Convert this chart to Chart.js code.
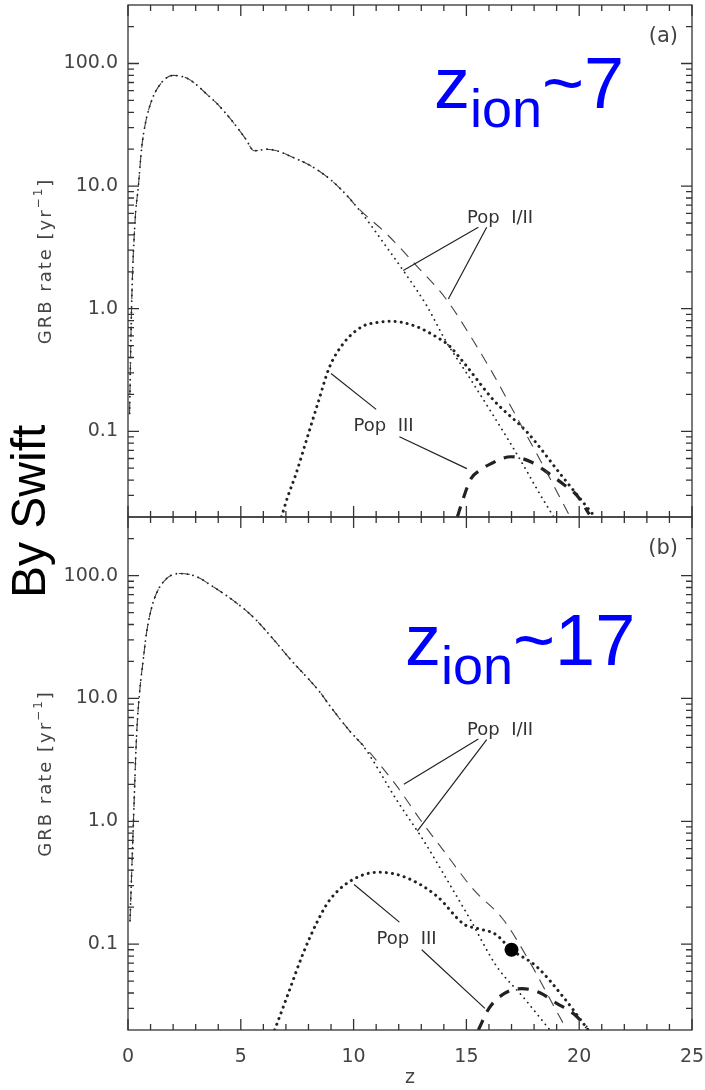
<!DOCTYPE html>
<html>
<head>
<meta charset="utf-8">
<script src="https://cdn.jsdelivr.net/npm/chart.js@4.4.0/dist/chart.umd.min.js"></script>
<style>
  html, body { margin: 0; padding: 0; background: #fff; }
  #wrap { position: relative; width: 705px; height: 1090px; }
  #wrap canvas { position: absolute; left: 0; top: 0; }
</style>
</head>
<body>
<div id="wrap">
  <canvas id="panelA" width="705" height="1090"></canvas>
  <canvas id="panelB" width="705" height="1090"></canvas>
</div>
<script>
// --- data (z, GRB rate per yr) ---
// panel (a), z_ion ~ 7 : low-z part shared by both Pop I/II curves
const zA_low    = [0.07, 0.16, 0.31, 0.46, 0.60, 0.75, 1.05, 1.49, 2.0, 2.6, 3.0, 3.5, 4.0, 4.67, 5.2, 5.6, 5.9, 6.15, 6.6, 7.2, 8.2, 9.1, 9.8];
const rateA_low = [0.14, 1.07, 5.1, 10, 20, 31, 50, 70, 80, 76, 68, 56, 46, 33, 24.5, 19.4, 19.7, 20, 19.4, 17.5, 14.3, 10.8, 8.0];
const zA_dotTail    = [10.43, 11.3, 12.2, 13.24, 14.1, 15.0, 16.2, 17.5, 18.2, 18.87];
const rateA_dotTail = [5.8, 3.5, 2.05, 1.06, 0.54, 0.30, 0.134, 0.054, 0.032, 0.02];
const zA_dashTail    = [10.13, 11.45, 12.78, 14.1, 15.3, 16.2, 17.05, 18.54, 19.6];
const rateA_dashTail = [6.8, 4.1, 2.25, 1.2, 0.55, 0.29, 0.15, 0.047, 0.02];
const zA_pop3Dot    = [6.8, 7.1, 7.43, 7.93, 8.42, 8.92, 9.58, 10.41, 11.0, 11.66, 12.74, 13.73, 14.23, 14.9, 16.2, 17.7, 19.2, 20.7];
const rateA_pop3Dot = [0.02, 0.03, 0.044, 0.087, 0.17, 0.33, 0.53, 0.72, 0.77, 0.79, 0.72, 0.58, 0.50, 0.36, 0.18, 0.098, 0.044, 0.02];
const zA_pop3Dash    = [14.6, 14.85, 15.2, 15.6, 16.05, 16.97, 17.9, 18.6, 19.3, 19.9, 20.45];
const rateA_pop3Dash = [0.02, 0.028, 0.041, 0.048, 0.054, 0.062, 0.056, 0.046, 0.037, 0.030, 0.021];

// panel (b), z_ion ~ 17
const zB_low    = [0.09, 0.24, 0.38, 0.5, 0.68, 0.83, 1.12, 1.57, 2.3, 3.04, 3.78, 4.6, 5.55, 6.4, 7.18, 8.5, 8.95, 9.84];
const rateB_low = [0.155, 0.98, 5.0, 10.5, 21, 35, 61, 89, 104, 98, 81, 64, 46, 31, 21, 11.3, 8.7, 5.4];
const zB_dotTail    = [10.43, 11.9, 13.16, 14.2, 15.16, 16.34, 17.52, 18.7];
const rateB_dotTail = [4.1, 1.5, 0.67, 0.32, 0.16, 0.066, 0.037, 0.02];
const zB_dashTail    = [10.73, 11.9, 12.94, 13.98, 15.3, 16.64, 17.82, 18.56, 19.45];
const rateB_dashTail = [3.6, 1.95, 1.04, 0.58, 0.28, 0.158, 0.071, 0.04, 0.02];
const zB_pop3Dot    = [6.5, 7.09, 7.75, 8.41, 8.95, 9.9, 11.1, 12.3, 13.7, 14.9, 15.5, 16.3, 17.0, 18.1, 19.3, 20.4];
const rateB_pop3Dot = [0.02, 0.039, 0.083, 0.155, 0.23, 0.33, 0.385, 0.35, 0.245, 0.145, 0.134, 0.12, 0.09, 0.066, 0.037, 0.02];
const zB_pop3Dash    = [15.53, 16.0, 16.67, 17.47, 18.28, 19.0, 19.77, 20.33];
const rateB_pop3Dash = [0.02, 0.030, 0.0395, 0.0435, 0.040, 0.033, 0.027, 0.021];
const zB_point    = [17.0];
const rateB_point = [0.09];

// axes
const zMin = 0, zMax = 25, zStep = 5;
const rateMin = 0.02, rateMax = 300;
const rateTicks = [0.1, 1, 10, 100];

// annotation text + leader lines, in data units (z, rate)
const notesA = [
  { text: 'Pop  I/II', z: 15.03, rate: 5.0 },
  { text: 'Pop  III', z: 10.0, rate: 0.101 }
];
const leadersA = [[15.53, 4.62, 12.2, 2.05], [15.9, 4.62, 14.2, 1.2], [9.0, 0.296, 11.0, 0.151], [12.03, 0.0904, 15.02, 0.0496]];
const notesB = [
  { text: 'Pop  I/II', z: 15.03, rate: 5.03 },
  { text: 'Pop  III', z: 11.02, rate: 0.101 }
];
const leadersB = [[15.53, 4.67, 12.23, 2.0], [15.9, 4.62, 12.82, 0.83], [10.02, 0.306, 12.03, 0.151], [13.02, 0.090, 15.82, 0.030]];

// --- styles ---
const INK = '#333';
const TEXT = '#444';
const IDL = '"DejaVu Sans", sans-serif';
const ARIAL = '"Liberation Sans", Arial, sans-serif';
Chart.defaults.font.family = IDL;

const thinDot  = { borderColor: '#222', borderWidth: 1.8, borderDash: [0.1, 5.5], borderCapStyle: 'round' };
const thinDash = { borderColor: '#444', borderWidth: 1.1, borderDash: [11, 8] };
const fatDot   = { borderColor: '#222', borderWidth: 3, borderDash: [0.1, 6], borderCapStyle: 'round' };
const fatDash  = { borderColor: '#222', borderWidth: 3.2, borderDash: [11, 9] };

function pts(zs, rs) { return zs.map((z, i) => ({ x: z, y: rs[i] })); }
function curve(zs, rs, style) {
  return Object.assign({ type: 'line', data: pts(zs, rs), pointRadius: 0, fill: false,
    cubicInterpolationMode: 'monotone' }, style);
}
// keep the plot frame exactly where the layout padding puts it
function noPad(s) { s.paddingTop = 0; s.paddingBottom = 0; s.paddingLeft = 0; s.paddingRight = 0; }

function drawFrame(chart) {
  const { ctx, chartArea: a, scales: { x, y } } = chart;
  ctx.save();
  ctx.strokeStyle = INK;
  ctx.lineWidth = 1.3;
  ctx.strokeRect(a.left, a.top, a.right - a.left, a.bottom - a.top);
  ctx.beginPath();
  for (let v = zMin; v <= zMax; v++) {
    const px = x.getPixelForValue(v);
    const len = v % zStep === 0 ? 11 : 6;
    ctx.moveTo(px, a.top); ctx.lineTo(px, a.top + len);
    ctx.moveTo(px, a.bottom); ctx.lineTo(px, a.bottom - len);
  }
  for (let d = -2; d <= 2; d++) {
    for (let m = 1; m <= 9; m++) {
      const v = m * Math.pow(10, d);
      if (v <= rateMin * 1.001 || v >= rateMax * 0.999) continue;
      const py = y.getPixelForValue(v);
      const len = m === 1 ? 11 : 6;
      ctx.moveTo(a.left, py); ctx.lineTo(a.left + len, py);
      ctx.moveTo(a.right, py); ctx.lineTo(a.right - len, py);
    }
  }
  ctx.stroke();
  ctx.restore();
}

function drawNotes(chart, notes, leaders) {
  const { ctx, scales: { x, y } } = chart;
  ctx.save();
  ctx.strokeStyle = '#222';
  ctx.lineWidth = 1.2;
  ctx.beginPath();
  leaders.forEach(l => {
    ctx.moveTo(x.getPixelForValue(l[0]), y.getPixelForValue(l[1]));
    ctx.lineTo(x.getPixelForValue(l[2]), y.getPixelForValue(l[3]));
  });
  ctx.stroke();
  ctx.fillStyle = '#333';
  ctx.font = '18px ' + IDL;
  ctx.textBaseline = 'alphabetic';
  notes.forEach(n => ctx.fillText(n.text, x.getPixelForValue(n.z), y.getPixelForValue(n.rate)));
  ctx.restore();
}

function drawYTitle(ctx, cx, cy) {
  ctx.save();
  ctx.translate(cx, cy);
  ctx.rotate(-Math.PI / 2);
  ctx.letterSpacing = '2px';
  ctx.fillStyle = TEXT;
  ctx.textBaseline = 'middle';
  const big = '18px ' + IDL, small = '12px ' + IDL;
  ctx.font = big;
  const w1 = ctx.measureText('GRB rate [yr').width, w3 = ctx.measureText(']').width;
  ctx.font = small;
  const w2 = ctx.measureText('\u22121').width;
  let px = -(w1 + w2 + w3) / 2;
  ctx.font = big; ctx.fillText('GRB rate [yr', px, 0); px += w1;
  ctx.font = small; ctx.fillText('\u22121', px, -7); px += w2;
  ctx.font = big; ctx.fillText(']', px, 0);
  ctx.restore();
}

function drawZion(ctx, px, base, tail) {
  ctx.save();
  ctx.fillStyle = '#0000ff';
  ctx.textBaseline = 'alphabetic';
  const main = '72px ' + ARIAL, sub = '54px ' + ARIAL;
  ctx.font = main; ctx.fillText('z', px, base); px += ctx.measureText('z').width;
  ctx.font = sub; ctx.fillText('ion', px, base + 19); px += ctx.measureText('ion').width;
  ctx.font = main; ctx.fillText('~' + tail, px, base);
  ctx.restore();
}

function panelLetter(chart, str) {
  const { ctx, chartArea: a } = chart;
  ctx.save();
  ctx.fillStyle = TEXT;
  ctx.font = '21px ' + IDL;
  ctx.textAlign = 'right';
  ctx.textBaseline = 'middle';
  ctx.fillText(str, a.right - 14, a.top + 32);
  ctx.restore();
}

function yAxis() {
  return {
    type: 'logarithmic', min: rateMin, max: rateMax,
    grid: { display: false, drawTicks: false }, border: { display: false },
    afterBuildTicks: s => { s.ticks = rateTicks.map(v => ({ value: v })); },
    afterFit: s => { s.width = 128; noPad(s); },
    ticks: { padding: 10, color: TEXT, font: { size: 19 }, autoSkip: false,
      callback: v => Number(v).toFixed(1) }
  };
}

// --- panel (a) ---
new Chart(document.getElementById('panelA'), {
  type: 'line',
  data: {
    datasets: [
      curve(zA_low.concat(zA_dotTail), rateA_low.concat(rateA_dotTail), thinDot),
      curve(zA_low.concat(zA_dashTail), rateA_low.concat(rateA_dashTail), thinDash),
      curve(zA_pop3Dot, rateA_pop3Dot, fatDot),
      curve(zA_pop3Dash, rateA_pop3Dash, fatDash)
    ]
  },
  options: {
    responsive: false, animation: false, events: [],
    layout: { padding: { left: 0, top: 5, right: 13, bottom: 573 } },
    plugins: { legend: { display: false }, tooltip: { enabled: false } },
    scales: {
      x: { type: 'linear', min: zMin, max: zMax, display: false, afterFit: noPad },
      y: yAxis()
    }
  },
  plugins: [{
    id: 'panelAExtras',
    afterDatasetsDraw: chart => {
      drawFrame(chart);
      drawNotes(chart, notesA, leadersA);
      panelLetter(chart, '(a)');
      const ctx = chart.ctx, a = chart.chartArea;
      drawZion(ctx, 434, 108, '7');
      drawYTitle(ctx, 46, (a.top + a.bottom) / 2);
      ctx.save();
      ctx.translate(45, 598);
      ctx.rotate(-Math.PI / 2);
      ctx.fillStyle = '#000';
      ctx.font = '48px ' + ARIAL;
      ctx.fillText('By Swift', 0, 0);
      ctx.restore();
    }
  }]
});

// --- panel (b) ---
new Chart(document.getElementById('panelB'), {
  type: 'line',
  data: {
    datasets: [
      { type: 'scatter', data: pts(zB_point, rateB_point), pointRadius: 7, backgroundColor: '#000',
        borderWidth: 0, order: -1 },
      curve(zB_low.concat(zB_dotTail), rateB_low.concat(rateB_dotTail), thinDot),
      curve(zB_low.concat(zB_dashTail), rateB_low.concat(rateB_dashTail), thinDash),
      curve(zB_pop3Dot, rateB_pop3Dot, fatDot),
      curve(zB_pop3Dash, rateB_pop3Dash, fatDash)
    ]
  },
  options: {
    responsive: false, animation: false, events: [],
    layout: { padding: { left: 0, top: 517, right: 13, bottom: 0 } },
    plugins: { legend: { display: false }, tooltip: { enabled: false } },
    scales: {
      x: {
        type: 'linear', min: zMin, max: zMax,
        grid: { display: false, drawTicks: false }, border: { display: false },
        afterFit: s => { s.height = 60; noPad(s); },
        ticks: { stepSize: zStep, padding: 16, color: TEXT, font: { size: 19 }, autoSkip: false, maxRotation: 0 },
        title: { display: true, text: 'z', color: TEXT, font: { size: 19 }, padding: { top: 0, bottom: 1 } }
      },
      y: yAxis()
    }
  },
  plugins: [{
    id: 'panelBExtras',
    afterDatasetsDraw: chart => {
      drawFrame(chart);
      drawNotes(chart, notesB, leadersB);
      panelLetter(chart, '(b)');
      const a = chart.chartArea;
      drawZion(chart.ctx, 405, 665, '17');
      drawYTitle(chart.ctx, 46, (a.top + a.bottom) / 2);
    }
  }]
});
</script>
</body>
</html>
